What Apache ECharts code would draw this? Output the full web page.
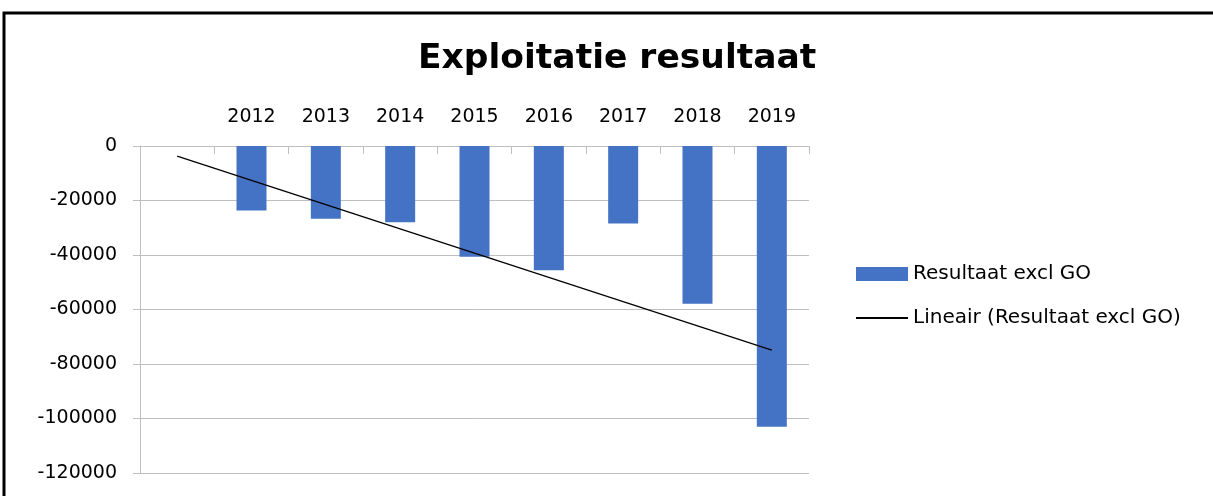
<!DOCTYPE html>
<html>
<head>
<meta charset="utf-8">
<script src="https://cdn.jsdelivr.net/npm/echarts@6/dist/echarts.min.js"></script>
<style>
html,body{margin:0;padding:0;background:#fff;}
#chart{width:1213px;height:496px;}
</style>
</head>
<body>
<div id="chart"></div>
<script>
// jaren, eerste categorie is leeg (zoals in het origineel)
var years = ['', '2012', '2013', '2014', '2015', '2016', '2017', '2018', '2019'];
var resultaat = [null, -23700, -26700, -28000, -40600, -45600, -28400, -57900, -103000];
var trend = [-3700, null, null, null, null, null, null, null, -74900];
var yTicks = { min: -120000, max: 0, step: 20000 };

var font = '"DejaVu Sans", sans-serif';
var chart = echarts.init(document.getElementById('chart'));
var option = {
	backgroundColor: '#fff',
	animation: false,
	title: {
		text: 'Exploitatie resultaat',
		left: 413,
		top: 37,
		textStyle: {
			fontFamily: font,
			fontSize: 34.5,
			fontWeight: 'bold',
			color: '#000'
		}
	},
	graphic: [{
		type: 'rect',
		shape: { x: 4, y: 13, width: 1230, height: 520 },
		style: { fill: 'none', stroke: '#000', lineWidth: 3 },
		silent: true
	}],
	legend: {
		orient: 'vertical',
		left: 850,
		top: 259,
		itemWidth: 52,
		itemHeight: 14,
		itemGap: 24,
		textStyle: { fontFamily: font, fontSize: 20, color: '#000' },
		data: [
			{ name: 'Resultaat excl GO', icon: 'rect' },
			{ name: 'Lineair (Resultaat excl GO)', itemStyle: { opacity: 0, color: 'rgba(0,0,0,0)' } }
		]
	},
	grid: {
		left: 140,
		top: 146,
		width: 669,
		height: 327
	},
	xAxis: {
		type: 'category',
		position: 'top',
		data: years,
		axisLine: { show: true, lineStyle: { color: '#bfbfbf', width: 1 } },
		axisTick: { show: true, inside: true, length: 8, lineStyle: { color: '#bfbfbf' } },
		axisLabel: {
			margin: 19,
			fontFamily: font,
			fontSize: 19,
			color: '#000'
		},
		splitLine: { show: false }
	},
	yAxis: {
		type: 'value',
		min: yTicks.min,
		max: yTicks.max,
		interval: yTicks.step,
		axisLine: { show: true, lineStyle: { color: '#bfbfbf', width: 1 } },
		axisTick: { show: true, length: 7, lineStyle: { color: '#bfbfbf' } },
		axisLabel: {
			margin: 23,
			fontFamily: font,
			fontSize: 19,
			color: '#000',
			formatter: function(v){ return String(v); }
		},
		splitLine: { show: true, lineStyle: { color: '#bfbfbf', width: 1 } }
	},
	series: [
		{
			name: 'Resultaat excl GO',
			type: 'bar',
			data: resultaat,
			barWidth: 30,
			itemStyle: { color: '#4472c4' }
		},
		{
			name: 'Lineair (Resultaat excl GO)',
			type: 'line',
			data: trend,
			connectNulls: true,
			symbol: 'none',
			showSymbol: false,
			lineStyle: { color: '#000', width: 1.2 },
			itemStyle: { color: '#000' }
		}
	]
};
chart.setOption(option);
</script>
</body>
</html>
